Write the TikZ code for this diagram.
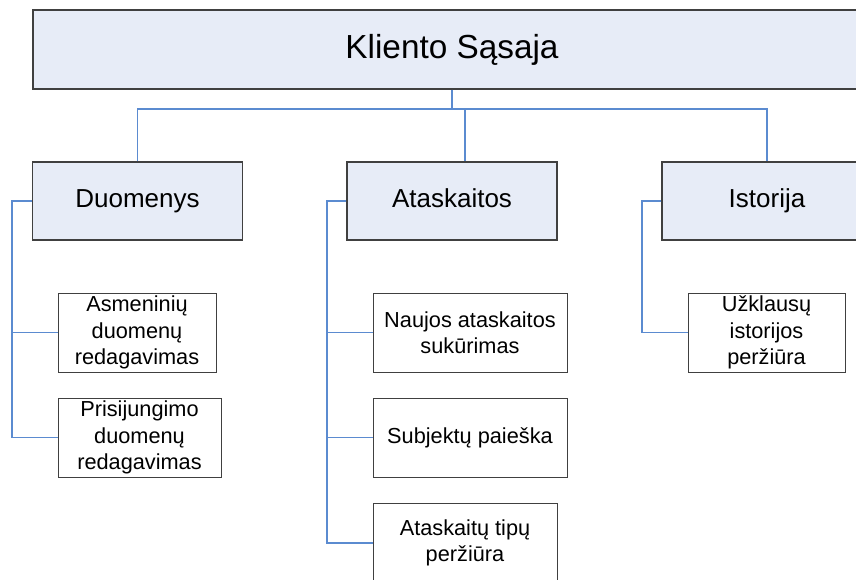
\documentclass[tikz,border=0pt]{standalone}
\usepackage{fontspec}
\setmainfont{Liberation Sans}
\usetikzlibrary{calc}
\definecolor{boxfill}{RGB}{231,236,247}
\definecolor{boxline}{RGB}{64,64,64}
\definecolor{linkblue}{RGB}{91,139,208}
\tikzset{
  px/.style={x=0.75pt,y=-0.75pt},
  headbox/.style={draw=boxline,line width=0.9pt,fill=boxfill,inner sep=0pt,
    align=center,text height=18pt,text depth=5pt,
    font=\fontsize{25}{30}\selectfont},
  groupbox/.style={draw=boxline,line width=0.9pt,fill=boxfill,inner sep=0pt,
    minimum width=157.5pt,minimum height=58.5pt,align=center,
    text height=14pt,text depth=4pt,
    font=\fontsize{19.5}{23}\selectfont},
  leafbox/.style={draw=boxline,line width=0.75pt,fill=white,inner sep=0pt,
    minimum height=59.25pt,align=center,font=\fontsize{16.3}{19.9}\selectfont},
  link/.style={draw=linkblue,line width=0.8pt}
}
\begin{document}
\begin{tikzpicture}[px]
\useasboundingbox (0,0) rectangle (856,579);
\clip (0,0) rectangle (856,579);

% root
\node[headbox,minimum width=628.5pt,minimum height=59.25pt] (root) at (452,49.5) {Kliento Sąsaja};

% second level
\node[groupbox] (duo) at (137.5,201) {Duomenys};
\node[groupbox] (ata) at (452,201) {Ataskaitos};
\node[groupbox] (ist) at (767,201) {Istorija};

% leaves
\node[leafbox,minimum width=118.5pt] (d1) at (137,332.5) {Asmeninių\\duomenų\\redagavimas};
\node[leafbox,minimum width=122.25pt] (d2) at (139.5,437.5) {Prisijungimo\\duomenų\\redagavimas};
\node[leafbox,minimum width=145.5pt] (a1) at (470,332.5) {Naujos ataskaitos\\sukūrimas};
\node[leafbox,minimum width=145.5pt] (a2) at (470,437.5) {Subjektų paieška};
\node[leafbox,minimum width=138pt] (a3) at (465,543) {Ataskaitų tipų\\peržiūra};
\node[leafbox,minimum width=117.75pt] (i1) at (766.5,332.5) {Užklausų\\istorijos\\peržiūra};

% bus under the root
\coordinate (bus) at (452,109);
\coordinate (atadrop) at (465,109);
\draw[link] (root.south) -- (bus);
\draw[link] (duo.north) -- (duo.north |- bus) -- (ist.north |- bus) -- (ist.north);
\draw[link] (atadrop) -- (atadrop |- ata.north);

% spines down the left of each group
\coordinate (dspine) at (12,0);
\coordinate (aspine) at (327,0);
\coordinate (ispine) at (642,0);
\draw[link] (duo.west) -| (dspine |- d2.west) -- (d2.west);
\draw[link] (dspine |- d1.west) -- (d1.west);
\draw[link] (ata.west) -| (aspine |- a3.west) -- (a3.west);
\draw[link] (aspine |- a1.west) -- (a1.west);
\draw[link] (aspine |- a2.west) -- (a2.west);
\draw[link] (ist.west) -| (ispine |- i1.west) -- (i1.west);
\end{tikzpicture}
\end{document}
